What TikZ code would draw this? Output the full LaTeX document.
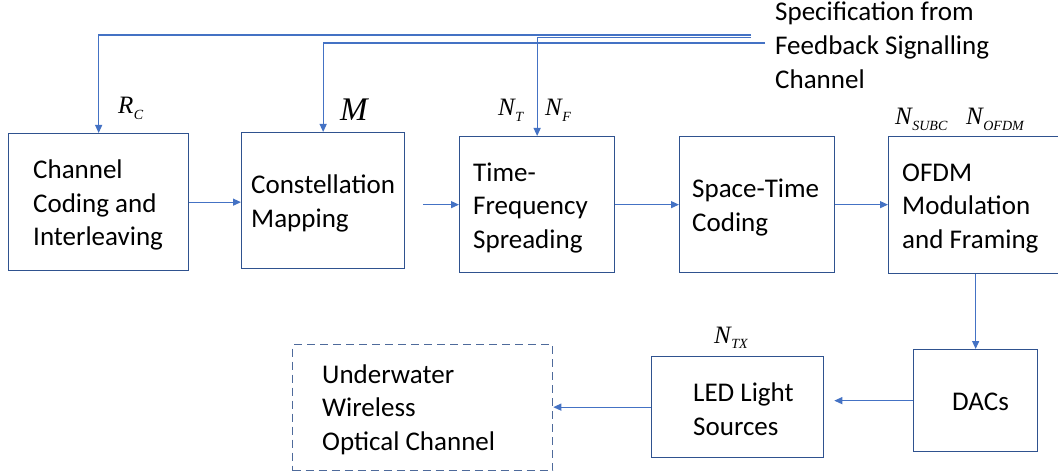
\documentclass[tikz,border=0pt]{standalone}
\usepackage{fontspec}
\setmainfont{Carlito}
\newfontfamily\tms{Liberation Serif}
\usetikzlibrary{arrows.meta}
\definecolor{boxc}{HTML}{2F528F}
\definecolor{arrc}{HTML}{4472C4}
\definecolor{dashc}{HTML}{4E6A9B}
\newcommand\symb[3][25]{{\fontsize{#1}{#1}\selectfont\tms\itshape #2}\kern0.5pt\raisebox{-5.5pt}{\fontsize{14}{14}\selectfont\tms\itshape #3}}
\begin{document}
\begin{tikzpicture}[x=1pt,y=-1pt,
  blk/.style={draw=boxc,line width=1.3pt,anchor=north west,inner sep=0pt},
  txt/.style={align=left,inner sep=0pt,anchor=west,font=\fontsize{27}{33.5}\selectfont},
  arr/.style={draw=arrc,line width=1.2pt,-{Triangle[length=8pt,width=7pt]}},
  lab/.style={anchor=base west,inner sep=0pt}]
\clip (0,0) rectangle (1058,476);
% blocks
\node[blk,minimum width=180pt,minimum height=137pt] (b1) at (8,133) {};
\node[txt] (t1) at ([xshift=25pt,yshift=-3pt]b1.west) {Channel\\Coding and\\Interleaving};
\node[blk,minimum width=163pt,minimum height=136pt] (b2) at (241,132) {};
\node[txt] (t2) at ([xshift=10pt,yshift=-3pt]b2.west) {Constellation\\Mapping};
\node[blk,minimum width=155pt,minimum height=136pt] (b3) at (459,136) {};
\node[txt] (t3) at ([xshift=14pt,yshift=-3pt]b3.west) {Time-\\Frequency\\Spreading};
\node[blk,minimum width=155pt,minimum height=136pt] (b4) at (679,136) {};
\node[txt] (t4) at ([xshift=13pt,yshift=-3pt]b4.west) {Space-Time\\Coding};
\node[blk,minimum width=172pt,minimum height=137pt] (b5) at (888,136) {};
\node[txt] (t5) at ([xshift=14pt,yshift=-3pt]b5.west) {OFDM\\Modulation\\and Framing};
\node[blk,minimum width=124pt,minimum height=102pt] (dac) at (913,349) {};
\node[txt] (t6) at ([xshift=39pt,yshift=-1pt]dac.west) {DACs};
\node[blk,minimum width=172pt,minimum height=101pt] (led) at (651,356) {};
\node[txt] (t7) at ([xshift=42pt,yshift=-2pt]led.west) {LED Light\\Sources};
\node[blk,draw=dashc,dash pattern=on 8pt off 5pt,minimum width=260pt,minimum height=126pt] (uw) at (292,344) {};
\node[txt] (t8) at ([xshift=30pt,yshift=-2pt]uw.west) {Underwater\\Wireless\\Optical Channel};
% feedback text
\node[txt,anchor=north west,font=\fontsize{27}{34}\selectfont] (spec) at (775,1.5) {Specification from\\Feedback Signalling\\Channel};
% labels
\node[lab] (rc) at (118,114) {\symb{R}{C}};
\node[lab] (m) at (340,121) {\symb[33]{M}{}};
\node[lab] (nt) at (498,116) {\symb{N}{T}};
\node[lab] (nf) at (545,116) {\symb{N}{F}};
\node[lab] (nsubc) at (895,125) {\symb{N}{SUBC}};
\node[lab] (nofdm) at (966,125) {\symb{N}{OFDM}};
\node[lab] (ntx) at (714,343) {\symb{N}{TX}};
% feedback lines
\coordinate (fa) at (751,35);
\coordinate (fb) at (765,43);
\coordinate (fc) at (751,37.5);
\draw[arr] (fa) -| (b1.north);
\draw[arr] (fb) -| (b2.north);
\draw[arr] (fc) -| (b3.north);
% chain
\draw[arr] (b1.east) -- (b2.west |- b1.east);
\draw[arr] ([xshift=18pt]b2.east |- b3.west) -- (b3.west);
\draw[arr] (b3.east) -- (b4.west |- b3.east);
\draw[arr] (b4.east) -- (b5.west |- b4.east);
\draw[arr] (b5.south -| dac.north) -- (dac.north);
\draw[arr] (dac.west) -- ([xshift=10pt]led.east |- dac.west);
\draw[arr] (led.west) -- (uw.east |- led.west);
\end{tikzpicture}
\end{document}
